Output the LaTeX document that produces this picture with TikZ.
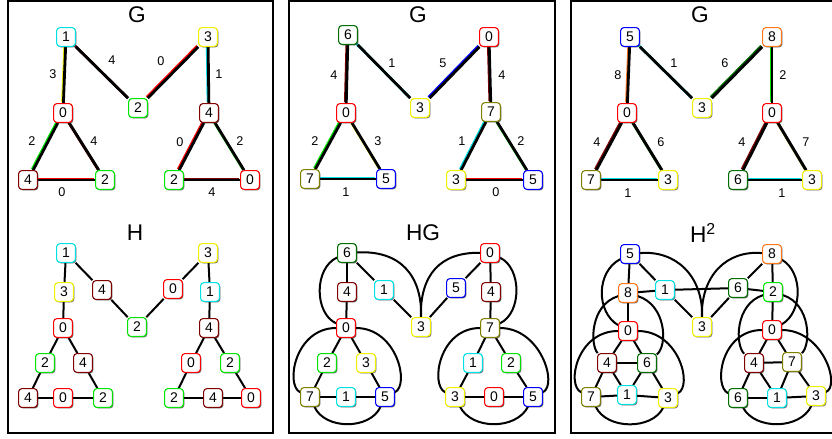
\documentclass[tikz,border=0pt]{standalone}
\usepackage{fontspec}
\setmainfont{Liberation Sans}
\usetikzlibrary{shadows,backgrounds}
\definecolor{cR}{RGB}{255,0,0}
\definecolor{cC}{RGB}{0,225,230}
\definecolor{cG}{RGB}{0,230,0}
\definecolor{cY}{RGB}{240,240,0}
\definecolor{cM}{RGB}{128,0,0}
\definecolor{cB}{RGB}{0,0,255}
\definecolor{cD}{RGB}{0,110,0}
\definecolor{cO}{RGB}{128,128,0}
\definecolor{cN}{RGB}{255,120,30}
\newcommand\gedge[5]{%
  \draw[hal=#1] (#2) -- (#3);
  \draw[blk] (#2) -- node[lbl, shift={#4}] {#5} (#3);
}
\begin{document}
\begin{tikzpicture}[x=0.75pt,y=-0.75pt,
 nd/.style={draw=#1, fill=white, rounded corners=2.3pt, minimum size=14pt, inner sep=0pt, line width=0.8pt, font=\fontsize{10.5}{10.5}\selectfont, drop shadow={shadow xshift=0.7pt, shadow yshift=-0.7pt, fill=black!75, opacity=0.85}},
 lbl/.style={font=\fontsize{9.5}{10}\selectfont, inner sep=0pt},
 ttl/.style={font=\fontsize{17}{17}\selectfont, inner sep=0pt},
 hal/.style={draw=#1, line width=2pt, transform canvas={shift={(-0.7pt,0.7pt)}}},
 blk/.style={draw=black, line width=2.1pt},
 hl/.style={draw=black, line width=1.5pt},
 frm/.style={draw=black, line width=1.2pt}]
\useasboundingbox (0,0) rectangle (832,439);
% frames
\draw[frm] (8,1) rectangle (273,433);
\draw[frm] (289,1) rectangle (555,433);
\draw[frm] (571,1) rectangle (845,433);
% titles
\node[ttl] (t1) at (137,15) {G};
\node[ttl] (t2) at (135,233) {H};
\node[ttl] (t3) at (418,15) {G};
\node[ttl] (t4) at (423,233) {HG};
\node[ttl] (t5) at (700,15) {G};
\node[ttl] (t6) at (703,233) {H\textsuperscript{2}};

% ---------- panel 1, G ----------
\node[nd=cC] (a1) at (66,37) {1};
\node[nd=cY] (a3) at (208,37) {3};
\node[nd=cR] (a0) at (63,113) {0};
\node[nd=cG] (a2) at (138,108) {2};
\node[nd=cM] (a4) at (209,113) {4};
\node[nd=cM] (a4b) at (28,180) {4};
\node[nd=cG] (a2b) at (105,180) {2};
\node[nd=cG] (a2c) at (174,180) {2};
\node[nd=cR] (a0c) at (250,180) {0};

% ---------- panel 2, G ----------
\node[nd=cD] (b6) at (348,35) {6};
\node[nd=cR] (b0) at (489,37) {0};
\node[nd=cR] (b0l) at (346,113) {0};
\node[nd=cY] (b3) at (420,108) {3};
\node[nd=cO] (b7) at (491,112) {7};
\node[nd=cO] (b7l) at (310,179) {7};
\node[nd=cB] (b5l) at (386,179) {5};
\node[nd=cY] (b3r) at (456,180) {3};
\node[nd=cB] (b5r) at (533,180) {5};

% ---------- panel 3, G ----------
\node[nd=cB] (c5) at (630,37) {5};
\node[nd=cN] (c8) at (772,37) {8};
\node[nd=cR] (c0l) at (627,113) {0};
\node[nd=cY] (c3) at (702,108) {3};
\node[nd=cR] (c0r) at (772,113) {0};
\node[nd=cO] (c7) at (591,180) {7};
\node[nd=cY] (c3l) at (668,180) {3};
\node[nd=cD] (c6) at (738,180) {6};
\node[nd=cY] (c3r) at (812,180) {3};

% ---------- panel 1, H ----------
\node[nd=cC] (d1) at (66,253) {1};
\node[nd=cY] (d3) at (64,292) {3};
\node[nd=cM] (d4) at (102,290) {4};
\node[nd=cR] (d0r) at (173,289) {0};
\node[nd=cY] (d3r) at (208,253) {3};
\node[nd=cC] (d1r) at (210,292) {1};
\node[nd=cG] (d2) at (137,327) {2};
\node[nd=cR] (d0) at (63,328) {0};
\node[nd=cM] (d4r) at (209,328) {4};
\node[nd=cG] (d2l) at (45,363) {2};
\node[nd=cM] (d4l) at (83,363) {4};
\node[nd=cR] (d0rl) at (191,363) {0};
\node[nd=cG] (d2rr) at (230,363) {2};
\node[nd=cM] (d4bl) at (28,398) {4};
\node[nd=cR] (d0bl) at (63,398) {0};
\node[nd=cG] (d2bl) at (103,398) {2};
\node[nd=cG] (d2br) at (174,398) {2};
\node[nd=cM] (d4br) at (213,398) {4};
\node[nd=cR] (d0br) at (251,398) {0};

% ---------- panel 2, HG ----------
\node[nd=cD] (e6) at (347,253) {6};
\node[nd=cM] (e4) at (347,292) {4};
\node[nd=cC] (e1) at (384,290) {1};
\node[nd=cR] (e0t) at (490,253) {0};
\node[nd=cB] (e5) at (456,288) {5};
\node[nd=cM] (e4r) at (491,292) {4};
\node[nd=cY] (e3) at (421,327) {3};
\node[nd=cR] (e0) at (346,328) {0};
\node[nd=cO] (e7) at (490,328) {7};
\node[nd=cG] (e2) at (327,363) {2};
\node[nd=cY] (e3l) at (366,363) {3};
\node[nd=cC] (e1r) at (473,363) {1};
\node[nd=cG] (e2r) at (511,363) {2};
\node[nd=cO] (e7b) at (310,397) {7};
\node[nd=cC] (e1b) at (346,397) {1};
\node[nd=cB] (e5b) at (385,397) {5};
\node[nd=cY] (e3b) at (455,397) {3};
\node[nd=cR] (e0b) at (494,397) {0};
\node[nd=cB] (e5br) at (533,397) {5};

% ---------- panel 3, H^2 ----------
\node[nd=cB] (f5) at (630,254) {5};
\node[nd=cN] (f8) at (628,293) {8};
\node[nd=cC] (f1) at (665,290) {1};
\node[nd=cN] (f8r) at (772,254) {8};
\node[nd=cD] (f6u) at (738,288) {6};
\node[nd=cG] (f2) at (773,292) {2};
\node[nd=cY] (f3) at (702,327) {3};
\node[nd=cR] (f0) at (628,331) {0};
\node[nd=cR] (f0r) at (772,330) {0};
\node[nd=cM] (f4) at (607,363) {4};
\node[nd=cD] (f6) at (647,363) {6};
\node[nd=cM] (f4r) at (754,363) {4};
\node[nd=cO] (f7r) at (792,362) {7};
\node[nd=cO] (f7) at (591,397) {7};
\node[nd=cC] (f1b) at (627,395) {1};
\node[nd=cY] (f3b) at (668,398) {3};
\node[nd=cD] (f6b) at (738,398) {6};
\node[nd=cC] (f1br) at (777,398) {1};
\node[nd=cY] (f3br) at (816,396) {3};

\begin{scope}[on background layer]
% panel 1 G edges
\gedge{cY}{a1}{a0}{(-11.5,-1)}{3}
\gedge{cM}{a1}{a2}{(10,-12.5)}{4}
\gedge{cR}{a3}{a2}{(-12,-11.5)}{0}
\gedge{cC}{a3}{a4}{(10.5,-1)}{1}
\gedge{cG}{a0}{a4b}{(-13.5,-5.5)}{2}
\gedge{cM}{a0}{a2b}{(10,-5.5)}{4}
\gedge{cR}{a4b}{a2b}{(-4.5,12)}{0}
\gedge{cR}{a4}{a2c}{(-11.5,-4.5)}{0}
\gedge{cG}{a4}{a0c}{(10.5,-5.5)}{2}
\gedge{cM}{a2c}{a0c}{(0,12)}{4}
% panel 2 G edges
\gedge{cM}{b6}{b0l}{(-13,1)}{4}
\gedge{cC}{b6}{b3}{(8,-8.5)}{1}
\gedge{cB}{b0}{b3}{(-11.5,-9.5)}{5}
\gedge{cM}{b0}{b7}{(12,0.5)}{4}
\gedge{cG}{b0l}{b7l}{(-13,-5)}{2}
\gedge{cY}{b0l}{b5l}{(12,-5)}{3}
\gedge{cC}{b7l}{b5l}{(-2,13)}{1}
\gedge{cC}{b7}{b3r}{(-11.5,-5)}{1}
\gedge{cG}{b7}{b5r}{(9,-5)}{2}
\gedge{cR}{b3r}{b5r}{(1.5,12)}{0}
% panel 3 G edges
\gedge{cN}{c5}{c0l}{(-10.5,0)}{8}
\gedge{cC}{c5}{c3}{(8,-9.5)}{1}
\gedge{cD}{c8}{c3}{(-12,-9.5)}{6}
\gedge{cG}{c8}{c0r}{(11,0)}{2}
\gedge{cM}{c0l}{c7}{(-12,-4.5)}{4}
\gedge{cD}{c0l}{c3l}{(13.5,-4.5)}{6}
\gedge{cC}{c7}{c3l}{(-1.5,13)}{1}
\gedge{cM}{c0r}{c6}{(-13,-4.5)}{4}
\gedge{cO}{c0r}{c3r}{(14,-4.5)}{7}
\gedge{cC}{c6}{c3r}{(7,13)}{1}
% panel 1 H edges
\draw[hl] (d1) -- (d3);
\draw[hl] (d3) -- (d0);
\draw[hl] (d1) -- (d4);
\draw[hl] (d4) -- (d2);
\draw[hl] (d2) -- (d0r);
\draw[hl] (d0r) -- (d3r);
\draw[hl] (d3r) -- (d1r);
\draw[hl] (d1r) -- (d4r);
\draw[hl] (d0) -- (d2l);
\draw[hl] (d0) -- (d4l);
\draw[hl] (d2l) -- (d4bl);
\draw[hl] (d4l) -- (d2bl);
\draw[hl] (d4bl) -- (d0bl);
\draw[hl] (d0bl) -- (d2bl);
\draw[hl] (d4r) -- (d0rl);
\draw[hl] (d4r) -- (d2rr);
\draw[hl] (d0rl) -- (d2br);
\draw[hl] (d2rr) -- (d0br);
\draw[hl] (d2br) -- (d4br);
\draw[hl] (d4br) -- (d0br);
% panel 2 HG edges
\draw[hl] (e6) -- (e4);
\draw[hl] (e4) -- (e0);
\draw[hl] (e6) -- (e1);
\draw[hl] (e1) -- (e3);
\draw[hl] (e0t) -- (e5);
\draw[hl] (e5) -- (e3);
\draw[hl] (e0t) -- (e4r);
\draw[hl] (e4r) -- (e7);
\draw[hl] (e0) -- (e2);
\draw[hl] (e0) -- (e3l);
\draw[hl] (e2) -- (e7b);
\draw[hl] (e3l) -- (e5b);
\draw[hl] (e7b) -- (e1b);
\draw[hl] (e1b) -- (e5b);
\draw[hl] (e7) -- (e1r);
\draw[hl] (e7) -- (e2r);
\draw[hl] (e1r) -- (e3b);
\draw[hl] (e2r) -- (e5br);
\draw[hl] (e3b) -- (e0b);
\draw[hl] (e0b) -- (e5br);
\draw[hl] (e6) .. controls (314,268) and (314,313) .. (e0);
\draw[hl] (e6) .. controls (400,250) and (422,275) .. (e3);
\draw[hl] (e0t) .. controls (440,252) and (420,275) .. (e3);
\draw[hl] (e0t) .. controls (522,268) and (522,313) .. (e7);
\draw[hl] (e0) .. controls (295,328) and (285,385) .. (e7b);
\draw[hl] (e0) .. controls (397,328) and (410,385) .. (e5b);
\draw[hl] (e7b) .. controls (325,430) and (370,430) .. (e5b);
\draw[hl] (e7) .. controls (439,328) and (430,385) .. (e3b);
\draw[hl] (e7) .. controls (541,328) and (558,385) .. (e5br);
\draw[hl] (e3b) .. controls (472,430) and (516,430) .. (e5br);
% panel 3 H^2 edges
\draw[hl] (f5) -- (f8);
\draw[hl] (f5) -- (f1);
\draw[hl] (f8) -- (f1);
\draw[hl] (f1) -- (f3);
\draw[hl] (f1) -- (f6u);
\draw[hl] (f6u) -- (f3);
\draw[hl] (f6u) -- (f2);
\draw[hl] (f8r) -- (f6u);
\draw[hl] (f8r) -- (f2);
\draw[hl] (f8) -- (f0);
\draw[hl] (f2) -- (f0r);
\draw[hl] (f0) -- (f4);
\draw[hl] (f0) -- (f6);
\draw[hl] (f4) -- (f6);
\draw[hl] (f4) -- (f7);
\draw[hl] (f4) -- (f1b);
\draw[hl] (f6) -- (f1b);
\draw[hl] (f6) -- (f3b);
\draw[hl] (f7) -- (f1b);
\draw[hl] (f1b) -- (f3b);
\draw[hl] (f0r) -- (f4r);
\draw[hl] (f0r) -- (f7r);
\draw[hl] (f4r) -- (f7r);
\draw[hl] (f4r) -- (f6b);
\draw[hl] (f4r) -- (f1br);
\draw[hl] (f7r) -- (f1br);
\draw[hl] (f7r) -- (f3br);
\draw[hl] (f6b) -- (f1br);
\draw[hl] (f1br) -- (f3br);
\draw[hl] (f5) .. controls (675,250) and (703,275) .. (f3);
\draw[hl] (f8r) .. controls (727,250) and (701,275) .. (f3);
\draw[hl] (f5) .. controls (596,272) and (596,312) .. (f0);
\draw[hl] (f8r) .. controls (803,272) and (803,312) .. (f0r);
\draw[hl] (f8) .. controls (590,305) and (590,345) .. (f4);
\draw[hl] (f8) .. controls (666,305) and (668,345) .. (f6);
\draw[hl] (f2) .. controls (735,304) and (735,345) .. (f4r);
\draw[hl] (f2) .. controls (811,304) and (811,345) .. (f7r);
\draw[hl] (f0) .. controls (577,331) and (566,385) .. (f7);
\draw[hl] (f0) .. controls (679,331) and (693,386) .. (f3b);
\draw[hl] (f7) .. controls (607,430) and (652,430) .. (f3b);
\draw[hl] (f0r) .. controls (721,330) and (713,386) .. (f6b);
\draw[hl] (f0r) .. controls (823,330) and (841,386) .. (f3br);
\draw[hl] (f6b) .. controls (755,430) and (800,430) .. (f3br);
\end{scope}
\end{tikzpicture}
\end{document}
